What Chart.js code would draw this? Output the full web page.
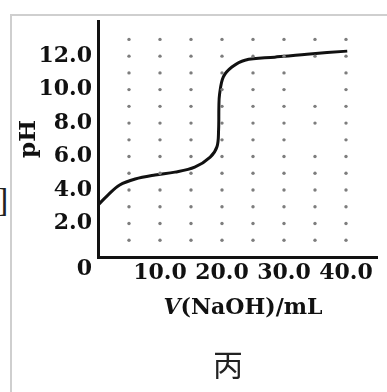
<!DOCTYPE html>
<html>
<head>
<meta charset="utf-8">
<script src="https://cdn.jsdelivr.net/npm/chart.js@4.4.1/dist/chart.umd.min.js"></script>
<style>
	body { margin: 0; background: #fff; }
	#wrap { position: relative; width: 387px; height: 392px; overflow: hidden; }
	#frame { position: absolute; left: 10px; top: 14px; right: -4px; bottom: -4px; border-top: 2px solid #cfcfcf; border-left: 2px solid #cfcfcf; }
	#chart { position: absolute; left: 0; top: 0; }
	#label { position: absolute; left: 213px; top: 341px; font: 30px "Noto Sans CJK SC"; color: #222; }
	#cut { position: absolute; left: -3px; top: 180px; font: 34px "Liberation Serif"; line-height: 40px; color: #222; }
</style>
</head>
<body>
<div id="wrap">
	<div id="frame"></div>
	<div id="cut">]</div>
	<canvas id="chart" width="387" height="392"></canvas>
	<div id="label">丙</div>
</div>
<script>
// Titration curve.
const volume = [0, 1.6, 3.5, 6.0, 9.2, 12.4, 15.6, 18.1, 19.2, 19.45, 19.5, 19.6, 20.2, 21.6, 23.7, 28.5, 33.7, 40.2];
const phValues = [3.1, 3.7, 4.3, 4.66, 4.9, 5.07, 5.37, 5.97, 6.6, 7.6, 9.0, 9.7, 10.75, 11.35, 11.76, 11.94, 12.12, 12.3];

const xTicks = [10, 20, 30, 40];
const yTicks = [0, 2, 4, 6, 8, 10, 12];

// dotted background grid
const dotCols = [5, 10, 15, 20, 25, 30, 35, 40];
const dotRows = [1, 2, 3, 4, 5, 6, 7, 8, 9, 10, 11, 12, 13];
const dotSkip = ['35,11', '35,10', '35,7'];

const dots = [];
dotCols.forEach( c => dotRows.forEach( r => {
	if ( ! dotSkip.includes( c + ',' + r ) ) dots.push( { x: c, y: r } );
} ) );

const curve = volume.map( ( v, i ) => ( { x: v, y: phValues[i] } ) );

const tickFont = { family: 'DejaVu Serif', size: 22, weight: 'bold', lineHeight: 1.1 };

// x axis caption with the italic V
const xCaptionPlugin = {
	id: 'xCaption',
	afterDraw( chart ) {
		const ctx = chart.ctx;
		const italic = 'italic bold 22px "DejaVu Serif"';
		const normal = 'bold 22px "DejaVu Serif"';
		ctx.save();
		ctx.fillStyle = '#111';
		ctx.textBaseline = 'middle';
		ctx.font = italic;
		const w1 = ctx.measureText( 'V' ).width;
		ctx.font = normal;
		const w2 = ctx.measureText( '(NaOH)/mL' ).width;
		let x = 243 - ( w1 + w2 ) / 2;
		ctx.font = italic;
		ctx.fillText( 'V', x, 308 );
		ctx.font = normal;
		ctx.fillText( '(NaOH)/mL', x + w1, 308 );
		ctx.restore();
	}
};

new Chart( document.getElementById( 'chart' ), {
	type: 'scatter',
	data: {
		datasets: [
			{
				data: dots,
				pointRadius: 1.7,
				pointBackgroundColor: '#7d7d7d',
				pointBorderWidth: 0,
				showLine: false
			},
			{
				data: curve,
				showLine: true,
				borderColor: '#111',
				borderWidth: 3,
				pointRadius: 0,
				tension: 0.35
			}
		]
	},
	options: {
		responsive: false,
		animation: false,
		layout: { padding: { top: 21, right: 10, left: 0, bottom: 62 } },
		plugins: { legend: { display: false }, tooltip: { enabled: false } },
		scales: {
			x: {
				type: 'linear',
				min: 0,
				max: 45,
				afterFit: ( scale ) => { scale.height = 73; },
				afterBuildTicks: ( scale ) => { scale.ticks = xTicks.map( v => ( { value: v } ) ); },
				grid: { display: false, drawTicks: false },
				border: { display: true, color: '#111', width: 3 },
				ticks: {
					autoSkip: false,
					maxRotation: 0,
					padding: 4,
					color: '#111',
					font: tickFont,
					callback: ( v ) => v.toFixed( 1 )
				}
			},
			y: {
				type: 'linear',
				min: 0,
				max: 14.1,
				afterFit: ( scale ) => { scale.width = 98; },
				afterBuildTicks: ( scale ) => { scale.ticks = yTicks.map( v => ( { value: v } ) ); },
				grid: { display: false, drawTicks: false },
				border: { display: true, color: '#111', width: 3 },
				title: {
					display: true,
					text: 'pH',
					color: '#111',
					font: { family: 'DejaVu Serif', size: 23, weight: 'bold' },
					padding: { top: 15, bottom: 0 }
				},
				ticks: {
					autoSkip: false,
					padding: 6,
					color: '#111',
					font: tickFont,
					callback: ( v ) => 0 === v ? ['', '0'] : v.toFixed( 1 )
				}
			}
		}
	},
	plugins: [xCaptionPlugin]
} );
</script>
</body>
</html>
